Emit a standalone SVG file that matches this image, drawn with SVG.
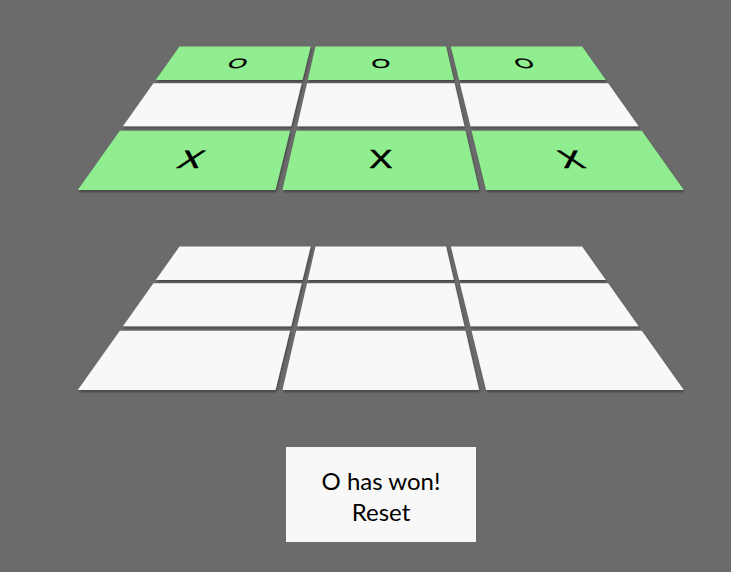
<svg xmlns="http://www.w3.org/2000/svg" width="731" height="572" viewBox="0 0 731 572">
  <defs>
    <filter id="sh" x="-10%" y="-20%" width="120%" height="150%">
      <feDropShadow dx="1" dy="2" stdDeviation="1.3" flood-color="#000" flood-opacity="0.35"/>
    </filter>
    <style>
      .cell { filter: url(#sh); }
      .win { fill: #90ee90; }
      .empty { fill: #f8f8f8; }
      .mark { font-family: "Liberation Sans", Arial, sans-serif; font-size: 24px; fill: #000; stroke: #000; stroke-width: 0.5px; text-anchor: middle; }
      .status { font-family: Lato, "Liberation Sans", sans-serif; font-size: 24px; fill: #000; text-anchor: middle; }
    </style>
  </defs>
  <rect width="731" height="572" fill="#6b6b6b"/>

  <g id="board1">
    <g id="b1-r0c0"><polygon class="cell win" points="179.5,46.5 310.7,46.5 302.48,80 155.76,80"/>
      <text class="mark" y="8.6" transform="matrix(1,0,-0.272,0.57,238,63.3)">O</text></g>
    <g id="b1-r0c1"><polygon class="cell win" points="315.5,46.5 446.1,46.5 453.8,80 307.8,80"/>
      <text class="mark" y="8.6" transform="matrix(1,0,0,0.57,380.8,63.3)">O</text></g>
    <g id="b1-r0c2"><polygon class="cell win" points="450.9,46.5 582.1,46.5 605.84,80 459.12,80"/>
      <text class="mark" y="8.6" transform="matrix(1,0,0.272,0.57,524,63.3)">O</text></g>
    <g id="b1-r1c0"><polygon class="cell empty" points="153.42,83.3 301.67,83.3 291.13,126.3 122.94,126.3"/></g>
    <g id="b1-r1c1"><polygon class="cell empty" points="307.04,83.3 454.56,83.3 464.45,126.3 297.15,126.3"/></g>
    <g id="b1-r1c2"><polygon class="cell empty" points="459.93,83.3 608.18,83.3 638.66,126.3 470.47,126.3"/></g>
    <g id="b1-r2c0"><polygon class="cell win" points="119.82,130.7 290.04,130.7 275.5,190 77.8,190"/>
      <text class="mark" y="8.6" transform="matrix(1.45,0,-0.5,1.05,191.4,159.2)">X</text></g>
    <g id="b1-r2c1"><polygon class="cell win" points="296.14,130.7 465.46,130.7 479.1,190 282.5,190"/>
      <text class="mark" y="8.6" transform="matrix(1.45,0,0,1.05,380.8,159.2)">X</text></g>
    <g id="b1-r2c2"><polygon class="cell win" points="471.56,130.7 641.78,130.7 683.8,190 486.1,190"/>
      <text class="mark" y="8.6" transform="matrix(1.45,0,0.5,1.05,571,159.2)">X</text></g>
  </g>

  <g id="board2" transform="translate(0,200)">
    <g id="b2-r0c0"><polygon class="cell empty" points="179.5,46.5 310.7,46.5 302.48,80 155.76,80"/></g>
    <g id="b2-r0c1"><polygon class="cell empty" points="315.5,46.5 446.1,46.5 453.8,80 307.8,80"/></g>
    <g id="b2-r0c2"><polygon class="cell empty" points="450.9,46.5 582.1,46.5 605.84,80 459.12,80"/></g>
    <g id="b2-r1c0"><polygon class="cell empty" points="153.42,83.3 301.67,83.3 291.13,126.3 122.94,126.3"/></g>
    <g id="b2-r1c1"><polygon class="cell empty" points="307.04,83.3 454.56,83.3 464.45,126.3 297.15,126.3"/></g>
    <g id="b2-r1c2"><polygon class="cell empty" points="459.93,83.3 608.18,83.3 638.66,126.3 470.47,126.3"/></g>
    <g id="b2-r2c0"><polygon class="cell empty" points="119.82,130.7 290.04,130.7 275.5,190 77.8,190"/></g>
    <g id="b2-r2c1"><polygon class="cell empty" points="296.14,130.7 465.46,130.7 479.1,190 282.5,190"/></g>
    <g id="b2-r2c2"><polygon class="cell empty" points="471.56,130.7 641.78,130.7 683.8,190 486.1,190"/></g>
  </g>

  <g id="connectors"/>

  <g id="status">
    <rect x="286" y="447" width="190" height="95" fill="#f8f8f8"/>
    <text class="status" x="381" y="490">O has won!</text>
    <text class="status" x="381" y="521">Reset</text>
  </g>
</svg>
